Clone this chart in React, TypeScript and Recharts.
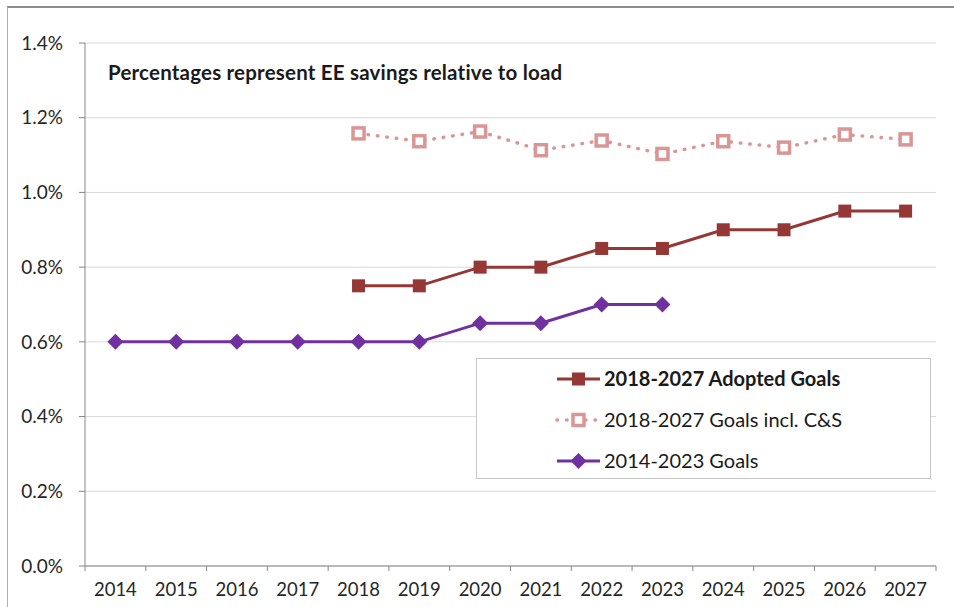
import React from "react";
import {
  LineChart,
  Line,
  XAxis,
  YAxis,
  CartesianGrid,
} from "recharts";

const years = [
  "2014", "2015", "2016", "2017", "2018", "2019", "2020",
  "2021", "2022", "2023", "2024", "2025", "2026", "2027",
];

// values in percent of load
const adoptedGoals = [null, null, null, null, 0.75, 0.75, 0.8, 0.8, 0.85, 0.85, 0.9, 0.9, 0.95, 0.95];
const goalsInclCS = [null, null, null, null, 1.158, 1.137, 1.163, 1.113, 1.139, 1.103, 1.137, 1.12, 1.155, 1.142];
const goals2014 = [0.6, 0.6, 0.6, 0.6, 0.6, 0.6, 0.65, 0.65, 0.7, 0.7, null, null, null, null];

const yTicks = [0, 0.2, 0.4, 0.6, 0.8, 1.0, 1.2, 1.4];

const series = [
  { key: "adopted", name: "2018-2027 Adopted Goals", color: "#953735", marker: "square", dotted: false, bold: true },
  { key: "cs", name: "2018-2027 Goals incl. C&S", color: "#D99694", marker: "hollow", dotted: true, bold: false },
  { key: "old", name: "2014-2023 Goals", color: "#7030A0", marker: "diamond", dotted: false, bold: false },
];

const data = years.map((year, i) => ({
  year,
  adopted: adoptedGoals[i],
  cs: goalsInclCS[i],
  old: goals2014[i],
}));

const FONT = "Lato, 'Open Sans', sans-serif";
const W = 954;
const H = 607;
const MARGIN = { top: 43, right: 18, bottom: 0, left: 0 };
const Y_AXIS_W = 85;
const X_AXIS_H = 41;
const BAND = (W - MARGIN.right - Y_AXIS_W) / years.length;

function Marker({ type, color, cx, cy }: { type: string; color: string; cx: number; cy: number }) {
  if (cx == null || cy == null || isNaN(cx) || isNaN(cy)) return null;
  if (type === "square") {
    return <rect x={cx - 6.5} y={cy - 6.5} width={13} height={13} fill={color} />;
  }
  if (type === "hollow") {
    return (
      <rect x={cx - 5.5} y={cy - 5.5} width={11} height={11} fill="#fff" stroke={color} strokeWidth={3.5} />
    );
  }
  return (
    <polygon
      points={`${cx},${cy - 8} ${cx + 8},${cy} ${cx},${cy + 8} ${cx - 8},${cy}`}
      fill={color}
    />
  );
}

function XTick(props: any) {
  const { x, y, payload, index } = props;
  return (
    <g>
      <line x1={x - BAND / 2} x2={x - BAND / 2} y1={y} y2={y + 5} stroke="#868686" />
      {index === years.length - 1 && (
        <line x1={x + BAND / 2} x2={x + BAND / 2} y1={y} y2={y + 5} stroke="#868686" />
      )}
      <text x={x} y={y + 30} textAnchor="middle" fontFamily={FONT} fontSize={18.5} fill="#262626">
        {payload.value}
      </text>
    </g>
  );
}

function LegendBox() {
  return (
    <div
      style={{
        position: "absolute",
        left: 476,
        top: 358,
        width: 455,
        height: 121,
        border: "1px solid #C8C8C8",
        background: "#fff",
        boxSizing: "border-box",
      }}
    >
      <svg width={455} height={121} style={{ position: "absolute", left: -1, top: -1 }}>
        {series.map((s, i) => {
          const cy = 21 + i * 41;
          return (
            <g key={s.key}>
              <line
                x1={81}
                x2={124}
                y1={cy}
                y2={cy}
                stroke={s.color}
                strokeWidth={s.dotted ? 3.5 : 3}
                strokeDasharray={s.dotted ? "0.5 9" : undefined}
                strokeLinecap={s.dotted ? "round" : "butt"}
              />
              <Marker type={s.marker} color={s.color} cx={102.5} cy={cy} />
              <text
                x={128}
                y={cy + 7}
                fontFamily={FONT}
                fontSize={20}
                fontWeight={s.bold ? 700 : 400}
                fill="#1a1a1a"
              >
                {s.name}
              </text>
            </g>
          );
        })}
      </svg>
    </div>
  );
}

export default function App() {
  return (
    <div style={{ position: "relative", width: W, height: H, background: "#fff", overflow: "hidden" }}>
      <style>{`body{margin:0}`}</style>
      <div
        style={{
          position: "absolute",
          left: 7,
          top: 6,
          right: 0,
          bottom: 0,
          borderTop: "2px solid #8C8C8C",
          borderLeft: "1px solid #B0B0B0",
        }}
      />
      <LineChart width={W} height={H} data={data} margin={MARGIN}>
        <CartesianGrid vertical={false} stroke="#D9D9D9" />
        <XAxis
          dataKey="year"
          height={X_AXIS_H}
          axisLine={{ stroke: "#868686" }}
          tickLine={false}
          tickSize={0}
          tickMargin={0}
          interval={0}
          padding={{ left: BAND / 2, right: BAND / 2 }}
          tick={<XTick />}
        />
        <YAxis
          width={Y_AXIS_W}
          domain={[0, 1.4]}
          ticks={yTicks}
          axisLine={{ stroke: "#868686" }}
          tickLine={{ stroke: "#868686" }}
          tickSize={6}
          tickMargin={16}
          tickFormatter={(v: number) => `${v.toFixed(1)}%`}
          tick={{ fontFamily: FONT, fontSize: 19, fill: "#262626" }}
        />
        {series.map((s) => (
          <Line
            key={s.key}
            dataKey={s.key}
            name={s.name}
            stroke={s.color}
            strokeWidth={s.dotted ? 3.5 : 3}
            strokeDasharray={s.dotted ? "0.5 9" : undefined}
            strokeLinecap={s.dotted ? "round" : "butt"}
            type="linear"
            connectNulls={false}
            isAnimationActive={false}
            dot={(p: any) => <Marker key={`${s.key}-${p.index}`} type={s.marker} color={s.color} cx={p.cx} cy={p.cy} />}
            activeDot={false}
          />
        ))}
      </LineChart>
      <div
        style={{
          position: "absolute",
          left: 108,
          top: 60,
          fontFamily: FONT,
          fontWeight: 700,
          fontSize: 20.5,
          letterSpacing: 0.2,
          color: "#1a1a1a",
          whiteSpace: "nowrap",
        }}
      >
        Percentages represent EE savings relative to load
      </div>
      <LegendBox />
    </div>
  );
}
